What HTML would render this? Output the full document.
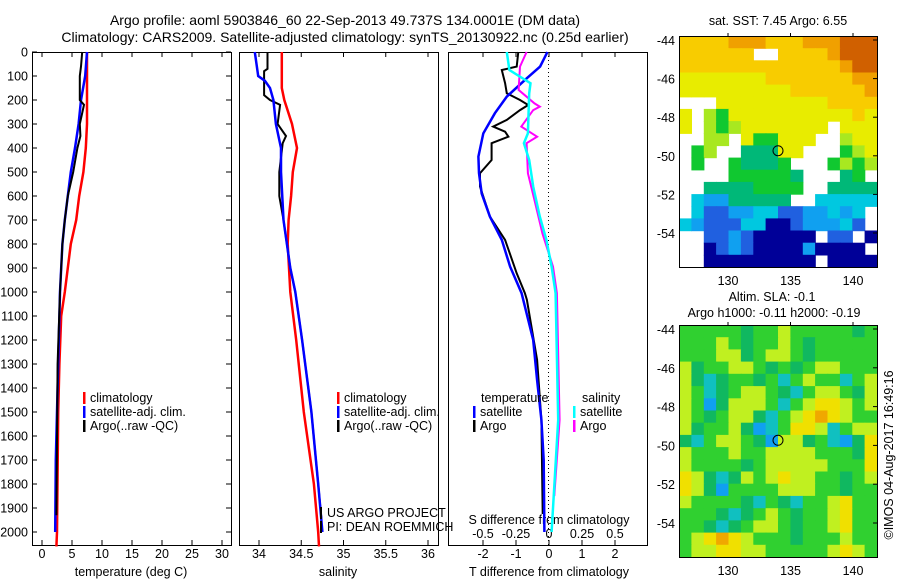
<!DOCTYPE html>
<html><head><meta charset="utf-8"><style>
body{margin:0;background:#fff;width:900px;height:580px;overflow:hidden}
svg{display:block;font-family:"Liberation Sans",sans-serif}
text{font-size:12.5px;fill:#000}
</style></head><body>
<svg id="s" width="900" height="580" viewBox="0 0 900 580">
<text x="345" y="25" text-anchor="middle" style="font-size:14px">Argo profile: aoml 5903846_60 22-Sep-2013 49.737S 134.0001E (DM data)</text>
<text x="345" y="42" text-anchor="middle" style="font-size:14px">Climatology: CARS2009. Satellite-adjusted climatology: synTS_20130922.nc (0.25d earlier)</text>
<g id="g"></g>
</svg>
<script>
// ---- data ----
const depthTicks=[0,100,200,300,400,500,600,700,800,900,1000,1100,1200,1300,1400,1500,1600,1700,1800,1900,2000];
const tTicks=[0,5,10,15,20,25,30];
const sTicks=[34,34.5,35,35.5,36];
const dtTicks=[-2,-1,0,1,2];
const dsTicks=[-0.5,-0.25,0,0.25,0.5];
const tClimD=[0,300,400,500,600,700,800,900,1000,1100,1300,1500,2000,2060];
const tClimV=[7.5,7.5,7.3,6.9,6.2,5.7,4.8,4.3,3.8,3.2,2.9,2.7,2.5,2.4];
const tSatD=[0,100,200,300,400,500,600,700,800,900,1000,1200,1500,1700,2000];
const tSatV=[7.5,7.2,6.5,6.1,5.5,4.8,4.3,3.8,3.4,3.2,3.0,2.8,2.5,2.3,2.2];
const tArgoD=[0,60,100,200,220,300,350,400,500,600,700,800,1000,1300,1930];
const tArgoV=[6.7,6.5,6.3,6.3,7.0,6.3,6.4,5.9,5.2,4.3,3.8,3.4,3.0,2.6,2.4];
const sClimD=[0,150,200,300,400,500,600,700,800,1000,1200,1500,1800,2000,2060];
const sClimV=[34.27,34.27,34.30,34.39,34.45,34.40,34.38,34.35,34.34,34.37,34.44,34.53,34.65,34.70,34.71];
const sSatD=[0,50,100,120,150,200,300,400,500,700,800,900,1000,1200,1500,1800,2000];
const sSatV=[33.95,33.97,33.99,34.07,34.13,34.17,34.20,34.26,34.26,34.29,34.33,34.37,34.43,34.51,34.62,34.70,34.75];
const sArgoD=[0,70,80,180,200,220,300,350,380,500,600,700,800,900,1000,1200,1500,1800,1950];
const sArgoV=[34.10,34.10,34.06,34.06,34.13,34.25,34.22,34.32,34.28,34.24,34.24,34.29,34.33,34.37,34.43,34.51,34.62,34.70,34.74];
const dtSatD=[0,61,110,186,255,339,436,505,590,686,783,894,1005,1200,1367,1533,1700,2000];
const dtSatV=[-0.05,-0.27,-0.68,-1.28,-1.64,-1.99,-2.14,-2.12,-2.04,-1.79,-1.43,-1.18,-0.83,-0.48,-0.36,-0.23,-0.16,-0.14];
const dtArgoD=[0,61,75,130,172,200,221,242,283,311,332,353,380,450,505,561,686,783,922,1005,1033,1283,1533,1925];
const dtArgoV=[-0.93,-0.98,-1.43,-1.33,-1.28,-0.88,-0.63,-0.88,-1.28,-1.69,-1.33,-1.23,-1.74,-1.74,-2.09,-2.09,-1.79,-1.33,-0.98,-0.73,-0.67,-0.36,-0.23,-0.19];
const dsSatD=[0,75,130,172,339,380,450,561,686,783,894,1005,1533,2000];
const dsSatV=[-0.32,-0.30,-0.14,-0.15,-0.16,-0.19,-0.15,-0.12,-0.07,-0.02,0.02,0.05,0.07,0.02];
const dsArgoD=[0,61,158,214,228,242,311,353,380,505,617,756,894,1005,1533,1850];
const dsArgoV=[-0.17,-0.22,-0.23,-0.11,-0.07,-0.12,-0.21,-0.09,-0.17,-0.16,-0.11,-0.05,0.03,0.06,0.08,0.04];
const latTicks=[-44,-46,-48,-50,-52,-54];
const lonTicks=[130,135,140];
const sstGrid=["yyyyoooyyyoooOOO","yyyyyywwyyyyoOOO","yyyyyyyyyyyyyoOO","YYYYYYYyyyyyyyoo","YYYYYYYYYyyyyyyo","wwwYYYYYYYYYyyyy","YwlgYYYYYYYYYYyY","YwlglYYYYYYYwYYY","wwllwYggYYYwwlYY","wglwwtttYYwwwglY","wgwwgtttgwwwglgl","wwwwgggggtwwwtgw","wwttttggggwwtttt","wcbbtttttwwccccc","wcBBbbccBBbbcbcw","cbBBBccNNBbbbcBw","wwBBbBNNNNNwBBwN","wwNBbBNNNNbNNNNw","wwNNNNNNNNNwNNNN"];
const slaGrid=["gggggGgglgggggGg","ggglgGgglgGggggg","gggllGgllgGggggg","lGggllgGgGgllggg","lGcGggGgcglggcgl","lgcGgllgGcgllgGl","lgbGlllgcglYYlgl","lgGgllGcglYoYlgg","lGgglGbcgYYlcgll","GcgllgGbllGgcbGY","lggglggllllgggGY","lggggGglllllgggY","YlGcGlglYllggGgl","YlGbgggglllggGgg","lggggGcgGcgglYgg","gggGcGglgGgglYgg","ggGcGgllgGgglYgg","glYoYlgggGggglgg","gllYYllggggglYlg"];
const sstColors={O:"#d06000",o:"#f0a000",y:"#f8cc00",Y:"#e8ec00",l:"#a8e820",g:"#10c830",t:"#00b878",c:"#00c8e0",b:"#10a0f0",B:"#2060e0",N:"#000098",w:"#ffffff"};
const slaColors={g:"#30d030",G:"#10b860",l:"#c0f020",Y:"#f0e000",o:"#f0a800",c:"#10c0c0",b:"#10a0f0"};
// ---- helpers ----
const NS="http://www.w3.org/2000/svg";
const G=document.getElementById('g');
function mk(t,a,p){const e=document.createElementNS(NS,t);for(const k in a)e.setAttribute(k,a[k]);(p||G).appendChild(e);return e;}
const yD=d=>52+d*0.24;
const xT=v=>42+v*6;
const xS=v=>259+(v-34)*84.5;
const xDT=v=>549+v*33;
const xDS=v=>549+v*132;
function line(D,V,fx,col,w,name){const pts=D.map((d,i)=>fx(V[i]).toFixed(1)+","+yD(d).toFixed(1)).join(" ");
const e=mk('polyline',{points:pts,fill:'none',stroke:col,'stroke-width':w});

}
function txt(x,y,s,anchor,name,extra){const e=mk('text',Object.assign({x:x,y:y,'text-anchor':anchor||'start'},extra||{}));e.textContent=s;

return e;}
const panels=[[32,231],[239,438],[448,647]];
panels.forEach((p,i)=>{const r=mk('rect',{x:p[0]+.5,y:52.5,width:p[1]-p[0],height:493,fill:'none',stroke:'#000'});

});
depthTicks.forEach(d=>{const y=yD(d);
mk('line',{x1:32,x2:37,y1:y,y2:y,stroke:'#000'});mk('line',{x1:226,x2:231,y1:y,y2:y,stroke:'#000'});
txt(28,y+4.5,String(d),'end','depth-tick-label');});
tTicks.forEach(v=>{const x=xT(v);mk('line',{x1:x,x2:x,y1:52,y2:57,stroke:'#000'});mk('line',{x1:x,x2:x,y1:540,y2:545,stroke:'#000'});txt(x,558,String(v),'middle','temperature-tick-label');});
sTicks.forEach(v=>{const x=xS(v);mk('line',{x1:x,x2:x,y1:52,y2:57,stroke:'#000'});mk('line',{x1:x,x2:x,y1:540,y2:545,stroke:'#000'});txt(x,558,String(v),'middle','salinity-tick-label');});
dtTicks.forEach(v=>{const x=xDT(v);mk('line',{x1:x,x2:x,y1:52,y2:57,stroke:'#000'});mk('line',{x1:x,x2:x,y1:540,y2:545,stroke:'#000'});txt(x,558,String(v),'middle','t-diff-tick-label');});
dsTicks.forEach(v=>{txt(xDS(v),538,String(v),'middle','s-diff-tick-label');});
mk('line',{x1:548.5,x2:548.5,y1:52,y2:545,stroke:'#000','stroke-dasharray':'1,3'});
txt(131,576,'temperature (deg C)','middle','x-axis-title-temperature');
txt(338,576,'salinity','middle','x-axis-title-salinity');
txt(549,576,'T difference from climatology','middle','x-axis-title-t-diff');
txt(549,524,'S difference from climatology','middle','s-diff-axis-title');
line(tClimD,tClimV,xT,'#f00',2.5,'temp-climatology-line');
line(tSatD,tSatV,xT,'#00f',2.5,'temp-satellite-line');
line(tArgoD,tArgoV,xT,'#000',2,'temp-argo-line');
line(sClimD,sClimV,xS,'#f00',2.5,'sal-climatology-line');
line(sArgoD,sArgoV,xS,'#000',2,'sal-argo-line');
line(sSatD,sSatV,xS,'#00f',2.5,'sal-satellite-line');
line(dtArgoD,dtArgoV,xDT,'#000',2,'tdiff-argo-line');
line(dtSatD,dtSatV,xDT,'#00f',2.5,'tdiff-satellite-line');
line(dsArgoD,dsArgoV,xDS,'#f0f',2,'sdiff-argo-line');
line(dsSatD,dsSatV,xDS,'#0ff',2.5,'sdiff-satellite-line');
function legend(x,y,items){items.forEach((it,i)=>{const yy=y+i*14;
mk('rect',{x:x,y:yy-10,width:2.5,height:12,fill:it[0]});
txt(x+7,yy,it[1],'start','legend-entry');});}
legend(83,402,[['#f00','climatology'],['#00f','satellite-adj. clim.'],['#000','Argo(..raw -QC)']]);
legend(337,402,[['#f00','climatology'],['#00f','satellite-adj. clim.'],['#000','Argo(..raw -QC)']]);
txt(481,402,'temperature','start','legend-title-temperature');
txt(582,402,'salinity','start','legend-title-salinity');
legend(473,416,[['#00f','satellite'],['#000','Argo']]);
legend(573,416,[['#0ff','satellite'],['#f0f','Argo']]);
mk('rect',{x:320,y:507,width:2,height:12,fill:'#000'});
mk('rect',{x:320,y:521,width:2,height:12,fill:'#000'});
txt(327,517,'US ARGO PROJECT','start','credit-project');
txt(327,531,'PI: DEAN ROEMMICH','start','credit-pi');
// ---- maps ----
function map(x0,y0,w,h,grid,colors,name,latOf,lonOf){
const rows=grid.length,cols=grid[0].length,cw=w/cols,ch=h/rows;
const gg=mk('g',{});
grid.forEach((row,r)=>{for(let c=0;c<cols;c++){const col=colors[row[c]];if(col==='#ffffff')continue;
const e=mk('rect',{x:(x0+c*cw).toFixed(1),y:(y0+r*ch).toFixed(1),width:(cw+0.6).toFixed(1),height:(ch+0.6).toFixed(1),fill:col},gg);

}});
const b=mk('rect',{x:x0+.5,y:y0+.5,width:w,height:h,fill:'none',stroke:'#000'});

latTicks.forEach(l=>{const y=latOf(l);mk('line',{x1:x0+w-4,x2:x0+w,y1:y,y2:y,stroke:'#000'});txt(x0-4,y+5,String(l),'end','latitude-tick-label');});
lonTicks.forEach(l=>{const x=lonOf(l);mk('line',{x1:x,x2:x,y1:y0-3,y2:y0,stroke:'#000'});txt(x,y0+h+18,String(l),'middle','longitude-tick-label');});
const c=mk('circle',{cx:lonOf(134.0),cy:latOf(-49.737),r:5,fill:'none',stroke:'#000'});
}
map(679,36,198,231,sstGrid,sstColors,'sst-map',l=>40+(-44-l)*19.3,l=>728+(l-130)*12.5);
map(679,325,198,232,slaGrid,slaColors,'sla-map',l=>329+(-44-l)*19.4,l=>728+(l-130)*12.5);
txt(778,25,'sat. SST: 7.45  Argo: 6.55','middle','sst-map-title');
txt(772,301,'Altim. SLA: -0.1','middle','sla-map-title-1');
txt(774,317,'Argo h1000: -0.11 h2000: -0.19','middle','sla-map-title-2');
txt(0,0,'©IMOS 04-Aug-2017 16:49:16','middle','timestamp',{transform:'translate(893,455) rotate(-90)'});
</script>
</body></html>
